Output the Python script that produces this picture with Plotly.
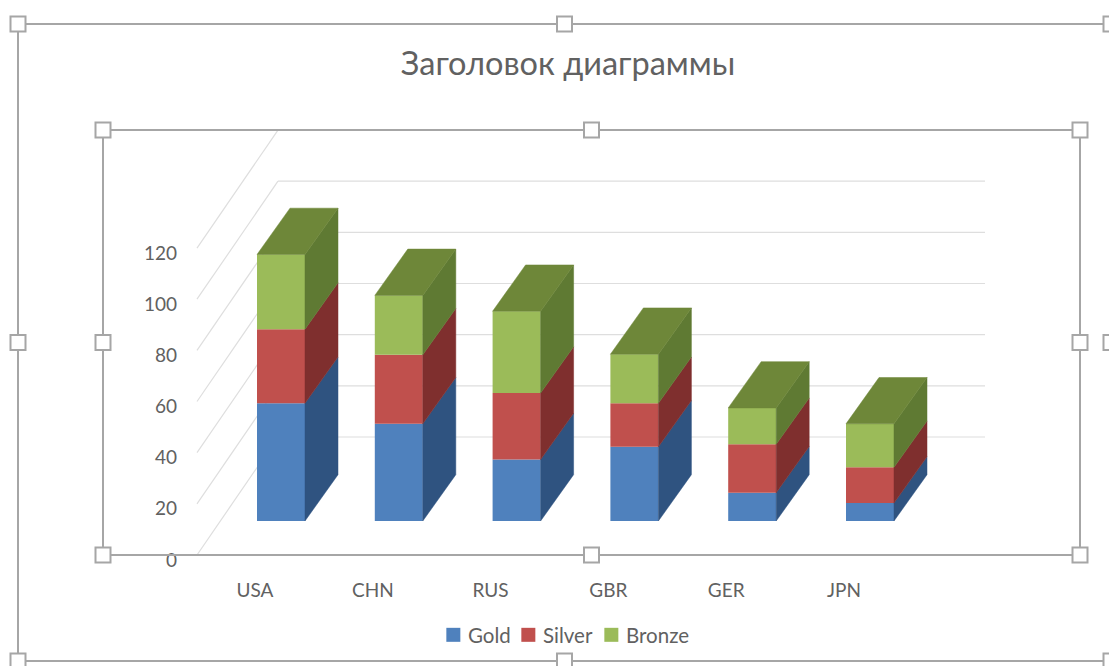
import plotly.graph_objects as go

# ---- data ----
categories = ["USA", "CHN", "RUS", "GBR", "GER", "JPN"]
gold = [46, 38, 24, 29, 11, 7]
silver = [29, 27, 26, 17, 19, 14]
bronze = [29.2, 23.2, 32, 19.2, 14.2, 17]
y_ticks = [0, 20, 40, 60, 80, 100, 120]
title_text = "Заголовок диаграммы"

# ---- geometry / style ----
W, H = 1109, 666
PX_PER_UNIT = 2.558       # pixels per value unit
Y0_PX = 555               # pixel of value 0 on the front plane
X0_PX = 281               # pixel of the first bar centre
STEP_PX = 117.8           # pixels per category
BAR_W = 48 / STEP_PX
BAR_DX = 33 / STEP_PX     # depth of a bar, x
BAR_DY = 46.3 / PX_PER_UNIT # depth of a bar, y
BASE = 34 / PX_PER_UNIT   # bars stand in front of the floor edge
WALL_DX = 81 / STEP_PX
WALL_DY = 118 / PX_PER_UNIT
WALL_LEFT = (197 - X0_PX) / STEP_PX
WALL_RIGHT = (985 - X0_PX) / STEP_PX
LABEL_X = -26 / STEP_PX

TEXT = "#616161"
GRID = "#dedede"
FRAME = "#a6a6a6"
FONT = "Lato, 'Open Sans', sans-serif"
series = [
    ("Gold", gold, "#4f81bd", "#2f5380", "legend", 435),
    ("Silver", silver, "#c0504d", "#7f2f2e", "legend2", 510),
    ("Bronze", bronze, "#9bbb59", "#5f7a33", "legend3", 593),
]
TOP_COLOR = "#6e8739"

xs = list(range(len(categories)))
fig = go.Figure()

# front faces and side faces, from the stacked values
cum = [BASE] * len(xs)
for name, vals, front, side, leg, _ in series:
    fig.add_trace(go.Bar(x=xs, y=vals, base=list(cum), width=BAR_W, name=name, legend=leg,
                         marker=dict(color=front, line=dict(width=0)),
                         hoverinfo="skip"))
    sx, sy = [], []
    for i, v in zip(xs, vals):
        r = i + BAR_W / 2
        lo, hi = cum[i], cum[i] + v
        sx += [r, r + BAR_DX, r + BAR_DX, r, r, None]
        sy += [lo, lo + BAR_DY, hi + BAR_DY, hi, lo, None]
        cum[i] = hi
    fig.add_trace(go.Scatter(x=sx, y=sy, mode="lines", fill="toself", fillcolor=side,
                             line=dict(width=0.5, color=side), showlegend=False,
                             hoverinfo="skip"))

# top faces
tx, ty = [], []
for i in xs:
    l, r = i - BAR_W / 2, i + BAR_W / 2
    t = cum[i]
    tx += [l, r, r + BAR_DX, l + BAR_DX, l, None]
    ty += [t, t, t + BAR_DY, t + BAR_DY, t, None]
fig.add_trace(go.Scatter(x=tx, y=ty, mode="lines", fill="toself", fillcolor=TOP_COLOR,
                         line=dict(width=0.5, color=TOP_COLOR), showlegend=False,
                         hoverinfo="skip"))

# gridlines on side wall and back wall, from the ticks
shapes = []
for v in y_ticks:
    shapes.append(dict(type="line", xref="x", yref="y", layer="below",
                       x0=WALL_LEFT, y0=v, x1=WALL_LEFT + WALL_DX, y1=v + WALL_DY,
                       line=dict(color=GRID, width=1.2)))
    if v < y_ticks[-1]:
        shapes.append(dict(type="line", xref="x", yref="y", layer="below",
                           x0=WALL_LEFT + WALL_DX, y0=v + WALL_DY, x1=WALL_RIGHT, y1=v + WALL_DY,
                           line=dict(color=GRID, width=1.2)))

# selection frames of the spreadsheet screenshot
def px(x):
    return x / W
def py(y):
    return 1 - y / H

def frame(x0, y0, x1, y1):
    xm, ym = (x0 + x1) / 2, (y0 + y1) / 2
    shapes.append(dict(type="rect", xref="paper", yref="paper", layer="above",
                       x0=px(x0), y0=py(y0), x1=px(x1), y1=py(y1),
                       line=dict(color=FRAME, width=2)))
    for hx in (x0, xm, x1):
        for hy in (y0, ym, y1):
            if hx == xm and hy == ym:
                continue
            shapes.append(dict(type="rect", xref="paper", yref="paper", layer="above",
                               x0=px(hx - 7.5), y0=py(hy - 7.5), x1=px(hx + 7.5), y1=py(hy + 7.5),
                               fillcolor="white", line=dict(color=FRAME, width=2)))

frame(18, 24, 1111, 661)
frame(103, 130, 1080, 555)

legend_style = dict(orientation="h", xanchor="left", y=py(635), yanchor="middle",
                    bgcolor="rgba(0,0,0,0)", font=dict(size=20.5), itemwidth=30, indentation=-7)

fig.update_layout(
    width=W, height=H, margin=dict(l=0, r=0, t=0, b=0),
    paper_bgcolor="white", plot_bgcolor="white",
    barmode="overlay", shapes=shapes,
    font=dict(family=FONT, color=TEXT, size=19),
    title=dict(text=title_text, x=568 / W, xanchor="center", y=py(64), yanchor="middle",
               font=dict(family=FONT, size=32.5, color=TEXT)),
    xaxis=dict(range=[-X0_PX / STEP_PX, (W - X0_PX) / STEP_PX], showgrid=False, zeroline=False,
               showline=False, tickmode="array",
               tickvals=[i + LABEL_X for i in xs], ticktext=categories,
               anchor="free", position=py(577), ticks="", fixedrange=True),
    yaxis=dict(range=[(Y0_PX - H) / PX_PER_UNIT, Y0_PX / PX_PER_UNIT], showgrid=False,
               zeroline=False, showline=False, tickmode="array", tickvals=y_ticks,
               anchor="free", position=px(177), ticks="", ticklabelshift=5, fixedrange=True),
    legend=dict(legend_style, x=px(series[0][5])),
    legend2=dict(legend_style, x=px(series[1][5])),
    legend3=dict(legend_style, x=px(series[2][5])),
)

# page margin off; legend swatches closer to their labels and a little larger
post = """
document.body.style.margin='0';
document.documentElement.style.overflow='hidden';
document.querySelectorAll('.legendsymbols').forEach(function(g){
  g.setAttribute('transform','translate(2,0) scale(1.167)');
});
"""
fig.write_html("out.html", config={"displayModeBar": False}, post_script=post)
